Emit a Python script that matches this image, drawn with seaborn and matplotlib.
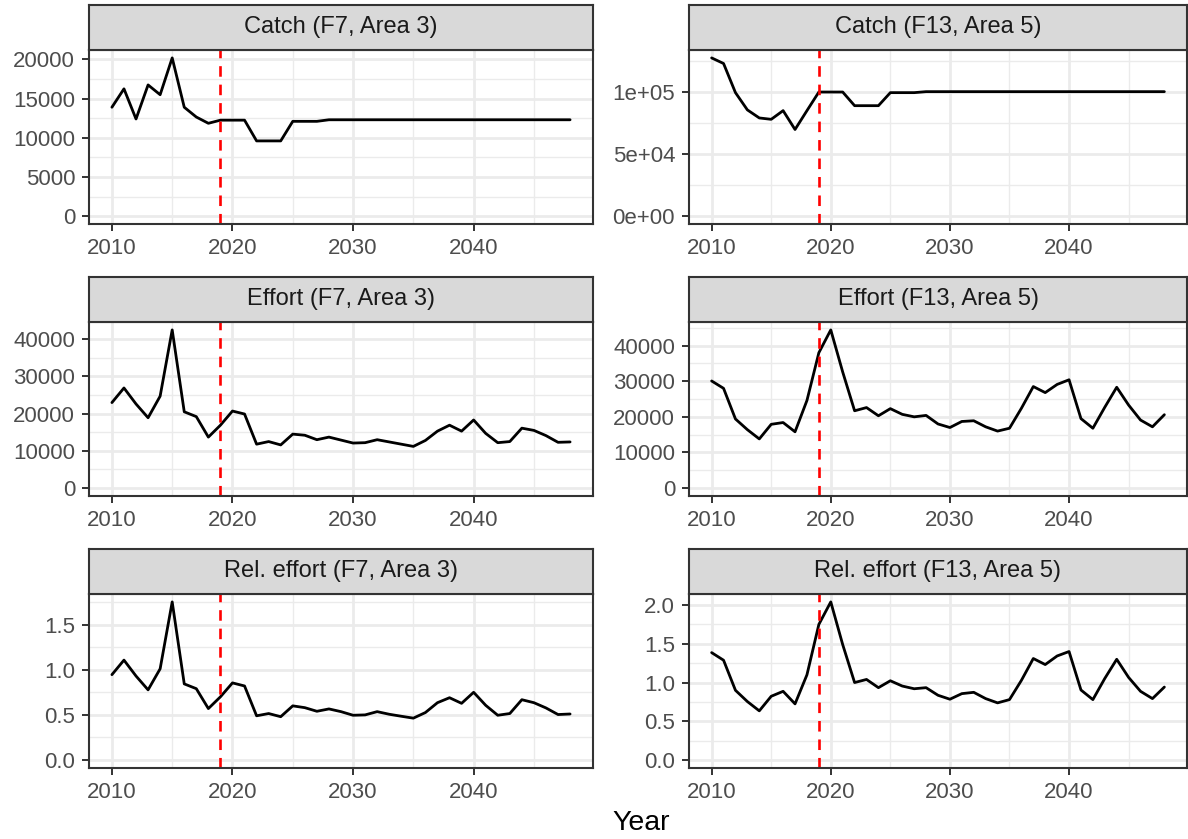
import numpy as np
import pandas as pd
import matplotlib
matplotlib.use("Agg")
import matplotlib.pyplot as plt
import seaborn as sns

# ---------------- data ----------------
years = list(range(2010, 2049))

catch_f7 = [13900, 16250, 12400, 16750, 15500, 20200, 13900, 12650, 11850, 12250,
            12250, 12250, 9600, 9600, 9600, 12100, 12100, 12100,
            12300, 12300, 12300, 12300, 12300, 12300, 12300, 12300, 12300, 12300,
            12300, 12300, 12300, 12300, 12300, 12300, 12300, 12300, 12300, 12300, 12300]

catch_f13 = [127500, 123000, 99500, 85600, 79100, 78000, 85000, 69800, 85000, 100000,
             100000, 100000, 89000, 89000, 89000, 99500, 99500, 99500,
             100300, 100300, 100300, 100300, 100300, 100300, 100300, 100300, 100300, 100300,
             100300, 100300, 100300, 100300, 100300, 100300, 100300, 100300, 100300, 100300, 100300]

effort_f7 = [22970, 26900, 22600, 18900, 24700, 42500, 20500, 19200, 13700, 16900,
             20700, 19900, 11800, 12500, 11600, 14500, 14200, 13000, 13700, 12900,
             12100, 12200, 13000, 12400, 11800, 11200, 12800, 15300, 16900, 15300,
             18300, 14700, 12200, 12500, 16100, 15500, 14100, 12300, 12400]

effort_f13 = [30070, 28000, 19400, 16400, 13800, 17900, 18400, 15800, 24600, 38000,
              44400, 32600, 21700, 22600, 20300, 22300, 20700, 20000, 20400, 18000,
              17000, 18700, 18900, 17200, 16000, 16800, 22400, 28500, 26800, 29100,
              30400, 19500, 16800, 22700, 28300, 23300, 19100, 17200, 20600]

rel_f7 = [0.945, 1.106, 0.93, 0.777, 1.01, 1.75, 0.843, 0.79, 0.57, 0.70,
          0.854, 0.82, 0.49, 0.515, 0.48, 0.60, 0.58, 0.54, 0.566, 0.536,
          0.496, 0.50, 0.536, 0.507, 0.485, 0.464, 0.526, 0.635, 0.69, 0.628,
          0.75, 0.606, 0.496, 0.515, 0.668, 0.635, 0.577, 0.504, 0.51]

rel_f13 = [1.386, 1.288, 0.90, 0.755, 0.635, 0.823, 0.887, 0.725, 1.10, 1.75,
           2.04, 1.49, 1.00, 1.04, 0.934, 1.023, 0.955, 0.92, 0.934, 0.836,
           0.785, 0.857, 0.874, 0.793, 0.738, 0.78, 1.028, 1.31, 1.232, 1.343,
           1.40, 0.904, 0.78, 1.053, 1.30, 1.066, 0.887, 0.793, 0.942]

titles = ["Catch (F7, Area 3)", "Catch (F13, Area 5)",
          "Effort (F7, Area 3)", "Effort (F13, Area 5)",
          "Rel. effort (F7, Area 3)", "Rel. effort (F13, Area 5)"]

ticks_catch_f7 = [0, 5000, 10000, 15000, 20000]
labels_catch_f7 = ["0", "5000", "10000", "15000", "20000"]
ticks_catch_f13 = [0, 50000, 100000]
labels_catch_f13 = ["0e+00", "5e+04", "1e+05"]
ticks_effort = [0, 10000, 20000, 30000, 40000]
labels_effort = ["0", "10000", "20000", "30000", "40000"]
ticks_rel_f7 = [0.0, 0.5, 1.0, 1.5]
labels_rel_f7 = ["0.0", "0.5", "1.0", "1.5"]
ticks_rel_f13 = [0.0, 0.5, 1.0, 1.5, 2.0]
labels_rel_f13 = ["0.0", "0.5", "1.0", "1.5", "2.0"]

x_ticks = [2010, 2020, 2030, 2040]
x_labels = ["2010", "2020", "2030", "2040"]
ref_year = 2019

series = [catch_f7, catch_f13, effort_f7, effort_f13, rel_f7, rel_f13]
yticks = [ticks_catch_f7, ticks_catch_f13, ticks_effort, ticks_effort, ticks_rel_f7, ticks_rel_f13]
ylabels = [labels_catch_f7, labels_catch_f13, labels_effort, labels_effort, labels_rel_f7, labels_rel_f13]

# ---------------- style ----------------
sns.set_theme(style="white")
plt.rcParams['font.family'] = ['Liberation Sans', 'DejaVu Sans']

W, H = 1188, 839
fig = plt.figure(figsize=(W / 100, H / 100), dpi=100)

col_x = [(89, 593), (689, 1187)]
row_top = [50, 322, 594]
panel_h = 174
strip_h = 45

GRID = "#EBEBEB"
BORDER = "#333333"


def minor_of(major, lo, hi):
    b = list(major)
    step = b[1] - b[0]
    if lo < b[0]:
        b = [b[0] - step] + b
    if hi > b[-1]:
        b = b + [b[-1] + step]
    mids = [(b[i] + b[i + 1]) / 2 for i in range(len(b) - 1)]
    return [m for m in mids if lo <= m <= hi]


x_lo, x_hi = min(years), max(years)
xr = x_hi - x_lo
xlim = (x_lo - 0.05 * xr, x_hi + 0.05 * xr)

for i in range(6):
    r, c = divmod(i, 2)
    x0, x1 = col_x[c]
    top = row_top[r]
    ax = fig.add_axes([x0 / W, 1 - (top + panel_h) / H, (x1 - x0) / W, panel_h / H])
    sax = fig.add_axes([x0 / W, 1 - top / H, (x1 - x0) / W, strip_h / H])

    df = pd.DataFrame({"Year": years, "value": series[i]})
    ymax = max(series[i])
    ymin = 0.0
    yr = ymax - ymin
    ylim = (ymin - 0.05 * yr, ymax + 0.05 * yr)

    # grid
    for xm in minor_of(x_ticks, *xlim):
        ax.axvline(xm, color=GRID, lw=1.0, zorder=0)
    for ym in minor_of(yticks[i], *ylim):
        ax.axhline(ym, color=GRID, lw=1.0, zorder=0)
    for xm in x_ticks:
        ax.axvline(xm, color=GRID, lw=2.0, zorder=0)
    for ym in yticks[i]:
        ax.axhline(ym, color=GRID, lw=2.0, zorder=0)

    sns.lineplot(data=df, x="Year", y="value", ax=ax, color="black", lw=2.0, zorder=3)
    ax.axvline(ref_year, color="red", lw=1.9, ls=(0, (4, 3)), zorder=4)

    ax.set_xlim(*xlim)
    ax.set_ylim(*ylim)
    ax.set_xticks(x_ticks)
    ax.set_xticklabels(x_labels)
    ax.set_yticks(yticks[i])
    ax.set_yticklabels(ylabels[i])
    ax.set_xlabel("")
    ax.set_ylabel("")
    ax.grid(False)
    ax.set_facecolor("white")
    ax.tick_params(axis="both", which="major", length=5, width=1.4, color=BORDER,
                   labelcolor="#4D4D4D", labelsize=16, pad=5, left=True, bottom=True)
    for sp in ax.spines.values():
        sp.set_color(BORDER)
        sp.set_linewidth(1.5)
        sp.set_visible(True)
        sp.set_zorder(5)

    sax.set_facecolor("#D9D9D9")
    sax.set_xticks([])
    sax.set_yticks([])
    for sp in sax.spines.values():
        sp.set_color(BORDER)
        sp.set_linewidth(1.5)
        sp.set_visible(True)
    sax.text(0.5, 0.5, titles[i], ha="center", va="center", fontsize=17,
             color="#1A1A1A", transform=sax.transAxes)

fig.text(641 / W, 1 - 823 / H, "Year", ha="center", va="center", fontsize=20.5, color="black")

fig.savefig("out.png", dpi=100, facecolor="white")
